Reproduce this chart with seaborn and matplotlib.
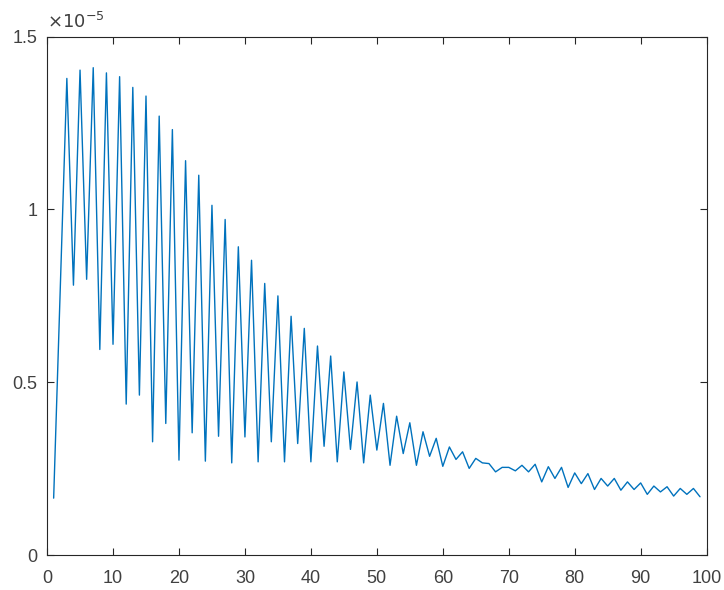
import numpy as np
import pandas as pd
import matplotlib
matplotlib.use("Agg")
import matplotlib.pyplot as plt
import seaborn as sns

# x positions (1..99) and values in units of 1e-5
x_vals = list(range(1, 100))
y_e5 = [
    0.165, 0.770, 1.379, 0.781, 1.403, 0.798, 1.410, 0.595, 1.395, 0.610,
    1.384, 0.437, 1.353, 0.463, 1.328, 0.328, 1.270, 0.381, 1.231, 0.275,
    1.141, 0.354, 1.099, 0.272, 1.012, 0.344, 0.971, 0.267, 0.892, 0.342,
    0.853, 0.270, 0.786, 0.328, 0.750, 0.270, 0.691, 0.323, 0.656, 0.270,
    0.605, 0.315, 0.576, 0.270, 0.530, 0.306, 0.501, 0.267, 0.463, 0.304,
    0.439, 0.260, 0.402, 0.294, 0.383, 0.260, 0.357, 0.286, 0.338, 0.257,
    0.313, 0.277, 0.299, 0.251, 0.280, 0.267, 0.265, 0.241, 0.254, 0.254,
    0.244, 0.260, 0.241, 0.263, 0.212, 0.256, 0.222, 0.254, 0.196, 0.238,
    0.207, 0.236, 0.190, 0.222, 0.200, 0.222, 0.188, 0.212, 0.190, 0.209,
    0.176, 0.200, 0.183, 0.198, 0.171, 0.193, 0.176, 0.193, 0.169,
]
x_ticks = [0, 10, 20, 30, 40, 50, 60, 70, 80, 90, 100]
y_ticks = [0, 0.5, 1, 1.5]
y_tick_labels = ["0", "0.5", "1", "1.5"]

df = pd.DataFrame({"x": x_vals, "y": y_e5})

sns.set_style("ticks")
plt.rcParams["font.family"] = ["Liberation Sans", "DejaVu Sans"]

fig = plt.figure(figsize=(7.24, 5.90), dpi=100)
ax = fig.add_axes([0.065, 0.059, 0.911, 0.879])

sns.lineplot(data=df, x="x", y="y", color="#0072BD", linewidth=1.0, ax=ax)

ax.set_xlim(0, 100)
ax.set_ylim(0, 1.5)
ax.set_xticks(x_ticks)
ax.set_yticks(y_ticks)
ax.set_yticklabels(y_tick_labels)
ax.set_xlabel("")
ax.set_ylabel("")

for s in ax.spines.values():
    s.set_visible(True)
    s.set_color("#262626")
    s.set_linewidth(0.8)
ax.tick_params(direction="in", top=True, right=True, length=5, width=0.8,
               colors="#262626", labelsize=13, labelcolor="#404040")
ax.tick_params(axis="x", pad=11)
ax.tick_params(axis="y", pad=7)

ax.text(0.0, 1.008, r"$\times10^{-5}$", transform=ax.transAxes,
        ha="left", va="bottom", fontsize=13, color="#404040")

fig.savefig("out.png", dpi=100)
